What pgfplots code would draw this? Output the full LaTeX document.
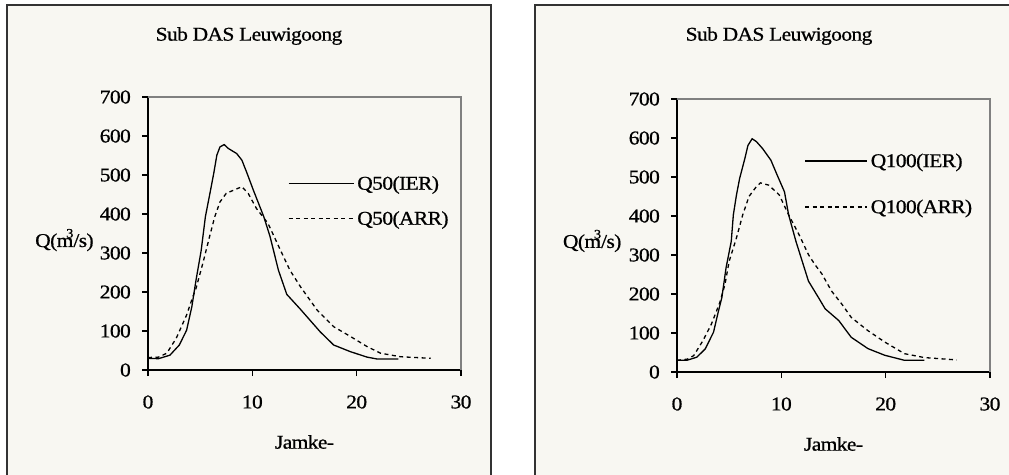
\documentclass[border=0pt]{standalone}
\usepackage{fontspec}
\setmainfont{Liberation Serif}[FakeStretch=1.1, FakeBold=0.8, LetterSpace=-3]
\usepackage{pgfplots}
\usepackage{pgfplotstable}
\pgfplotsset{compat=1.18}
\definecolor{cream}{HTML}{F8F7F2}
\definecolor{boxc}{HTML}{333333}

\pgfplotstableread{
x y
0 30
1.0 29
2.1 38
3.0 64
3.7 102
4.2 162
4.6 230
5.1 307
5.5 393
5.9 448
6.3 504
6.6 551
6.9 572
7.3 578
7.7 568
8.5 555
9.0 538
9.5 504
10.1 461
11.1 393
11.7 342
12.5 256
13.3 194
14.6 156
16.5 98
17.8 64
19.4 47
21.0 33
22.0 28
24.0 28
}\qfiftyier

\pgfplotstableread{
x y
0 32
1.0 33
1.8 43
2.7 81
3.7 141
4.3 188
4.6 209
5.3 278
5.9 342
6.4 393
6.9 431
7.5 453
8.2 461
9.0 470
9.6 453
10.4 414
11.5 376
12.7 307
13.6 256
14.6 214
16.2 154
17.8 111
19.4 86
21.0 60
22.3 43
24.2 34
27.1 30
}\qfiftyarr

\pgfplotstableread{
x y
0 30
0.95 30
1.9 38
2.7 59
3.5 102
3.9 148
4.3 191
4.7 267
5.2 335
5.4 403
5.7 454
6.0 496
6.5 547
6.8 581
7.2 598
7.6 591
8.2 573
9.0 543
9.6 505
10.3 462
10.7 403
11.4 335
12.0 284
12.6 233
13.6 189
14.2 162
15.5 132
16.7 89
18.3 60
19.9 43
21.8 30
23.7 30
}\qhundier

\pgfplotstableread{
x y
0 30
1.0 33
1.6 42
2.5 81
3.3 123
4.1 178
4.6 225
5.0 284
5.7 344
6.3 403
6.9 450
7.6 475
8.0 485
8.8 479
9.8 454
10.7 403
11.7 352
12.6 301
13.2 276
13.9 251
14.8 208
15.8 174
16.7 140
18.3 106
19.9 77
21.8 47
23.7 37
26.8 31
}\qhundarr

\newcommand\fnt{\fontsize{19.5}{22}\selectfont}
\pgfplotsset{
  myax/.style={
    scale only axis, width=313pt, height=273pt,
    xmin=0, xmax=30, ymin=0, ymax=700,
    axis lines=left,
    axis line style={-, line width=1.2pt, black},
    tick align=outside, major tick length=6pt,
    tick style={black, line width=1.2pt},
    xtick={0,10,20,30}, ytick={0,100,...,700},
    /pgf/number format/assume math mode=true,
    xticklabel style={anchor=center, yshift=-26pt, inner sep=0pt},
    yticklabel style={anchor=east, xshift=-11pt, inner sep=0pt},
    font=\fnt,
    after end axis/.code={\draw[gray, line width=1.2pt] (rel axis cs:0,1) -- (rel axis cs:1,1) -- (rel axis cs:1,0);},
    xlabel={Jamke-},
    xlabel style={at={(axis description cs:0.5,-0.2637)}, anchor=center, inner sep=0pt},
    ylabel={Q(m\llap{\raisebox{1.05ex}{\fontsize{13}{13}\selectfont 3}}/s)},
    clip=false,
    legend style={draw=none, fill=none, inner sep=0pt, column sep=3pt,
      nodes={inner sep=0pt, anchor=west, font=\fnt}},
    legend cell align=left,
  },
  sol/.style={black, solid, no marks, line width=1.3pt},
  dsh/.style={black, no marks, line width=1.3pt, dash pattern=on 4pt off 3.5pt},
}

\begin{document}
\begin{tikzpicture}[x=1pt,y=1pt]
\useasboundingbox (0,0) rectangle (1009,474);
\clip (0,0) rectangle (1009,474);
\fill[white] (0,0) rectangle (1009,474);
\fill[cream] (7,-5) rectangle (491,469);
\draw[boxc, line width=2pt] (7,-5) -- (7,469) -- (491,469) -- (491,-5);
\fill[cream] (535,-5) rectangle (1020,469);
\draw[boxc, line width=2pt] (535,-5) -- (535,469) -- (1020,469);
\node[font=\fnt] at (249,438) {Sub DAS Leuwigoong};
\node[font=\fnt] at (779,438) {Sub DAS Leuwigoong};

\begin{axis}[myax, at={(148pt,104pt)}, anchor=south west,
  ylabel style={rotate=-90, at={(axis description cs:-0.267,0.476)}, anchor=center, inner sep=0pt},
  legend image code/.code={\draw[#1] (0pt,0pt) -- (65pt,0pt);},
  legend style={at={(axis cs:13.4,477)}, anchor=north west, row sep=20pt, yshift=8pt}]
\addplot[sol] table[x=x,y=y] {\qfiftyier};
\addplot[dsh] table[x=x,y=y] {\qfiftyarr};
\legend{Q50(IER), Q50(ARR)}
\end{axis}

\begin{axis}[myax, at={(677pt,102pt)}, anchor=south west,
  ylabel style={rotate=-90, at={(axis description cs:-0.271,0.48)}, anchor=center, inner sep=0pt},
  legend image code/.code={\draw[#1] (0pt,0pt) -- (62pt,0pt);},
  legend style={at={(axis cs:12.2,540)}, anchor=north west, row sep=31pt, yshift=8pt}]
\addplot[sol] table[x=x,y=y] {\qhundier};
\addplot[dsh] table[x=x,y=y] {\qhundarr};
\legend{Q100(IER), Q100(ARR)}
\end{axis}
\end{tikzpicture}
\end{document}
